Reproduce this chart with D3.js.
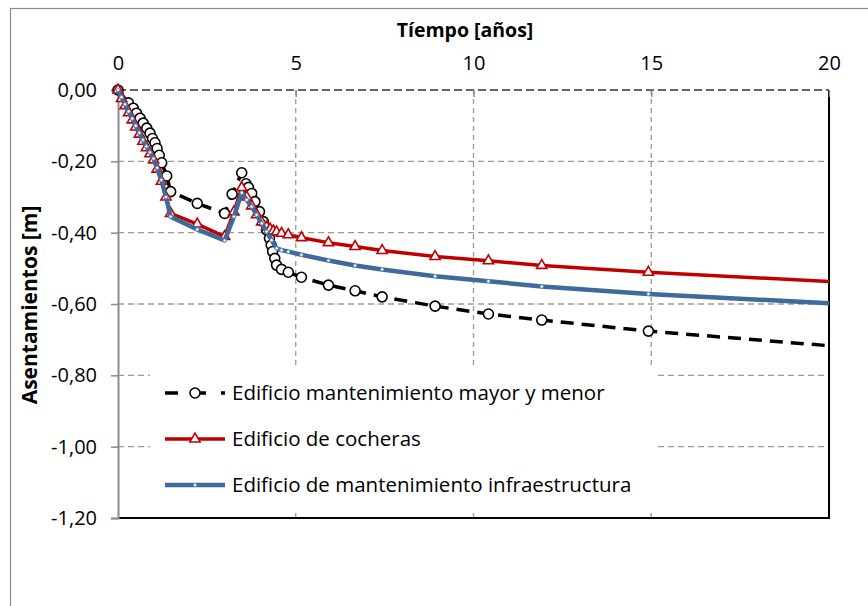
<!DOCTYPE html>
<html>
<head>
<meta charset="utf-8">
<script src="https://cdn.jsdelivr.net/npm/d3@7"></script>
<style>
  body { margin: 0; background: #fff; }
  text { font-family: "Open Sans", sans-serif; fill: #000; }
</style>
</head>
<body>
<script>
const width = 868,
      height = 606;

// settlement data, years vs metres
const tMayor = [0, 0.29, 0.43, 0.52, 0.62, 0.71, 0.81, 0.90, 0.97, 1.04, 1.10, 1.16, 1.23, 1.37, 1.48, 2.23, 3.0, 3.21, 3.48, 3.60, 3.67, 3.76, 3.85, 3.98, 4.09, 4.18, 4.26, 4.31, 4.35, 4.41, 4.46, 4.60, 4.79, 5.16, 5.92, 6.67, 7.43, 8.92, 10.42, 11.92, 14.92, 20];
const vMayor = [0, -0.036, -0.051, -0.065, -0.079, -0.093, -0.107, -0.121, -0.136, -0.148, -0.164, -0.183, -0.204, -0.241, -0.285, -0.318, -0.346, -0.292, -0.232, -0.263, -0.273, -0.290, -0.313, -0.341, -0.369, -0.392, -0.416, -0.435, -0.453, -0.472, -0.491, -0.503, -0.511, -0.525, -0.547, -0.563, -0.580, -0.606, -0.628, -0.645, -0.676, -0.717];

const tCocheras = [0, 0.1, 0.2, 0.3, 0.4, 0.5, 0.6, 0.7, 0.8, 0.9, 1.0, 1.1, 1.22, 1.35, 1.48, 2.23, 3.0, 3.26, 3.48, 3.62, 3.76, 3.90, 4.04, 4.18, 4.28, 4.37, 4.46, 4.60, 4.79, 5.16, 5.92, 6.67, 7.43, 8.92, 10.42, 11.92, 14.92, 20];
const vCocheras = [0, -0.024, -0.044, -0.064, -0.084, -0.104, -0.124, -0.144, -0.162, -0.179, -0.196, -0.222, -0.256, -0.300, -0.346, -0.376, -0.411, -0.342, -0.274, -0.300, -0.325, -0.350, -0.370, -0.384, -0.390, -0.395, -0.398, -0.402, -0.406, -0.414, -0.428, -0.439, -0.450, -0.467, -0.479, -0.492, -0.511, -0.537];

const tInfra = [0, 0.1, 0.2, 0.3, 0.4, 0.5, 0.6, 0.7, 0.8, 0.9, 1.0, 1.1, 1.22, 1.35, 1.48, 2.23, 3.0, 3.26, 3.48, 3.62, 3.76, 3.90, 4.04, 4.18, 4.32, 4.46, 4.60, 4.79, 5.16, 5.92, 6.67, 7.43, 8.92, 10.42, 11.92, 14.92, 20];
const vInfra = [0, -0.020, -0.040, -0.060, -0.080, -0.100, -0.120, -0.140, -0.158, -0.175, -0.192, -0.218, -0.252, -0.300, -0.355, -0.391, -0.422, -0.355, -0.288, -0.308, -0.327, -0.350, -0.374, -0.397, -0.421, -0.444, -0.449, -0.453, -0.462, -0.478, -0.492, -0.503, -0.522, -0.536, -0.551, -0.572, -0.598];

const xTicks = [0, 5, 10, 15, 20];
const yTicks = [0, -0.2, -0.4, -0.6, -0.8, -1.0, -1.2];
const seriesNames = ["Edificio mantenimiento mayor y menor", "Edificio de cocheras", "Edificio de mantenimiento infraestructura"];

const zip = (ts, vs) => ts.map((t, i) => ({t: t, v: vs[i]}));
const series = [
  {name: seriesNames[0], data: zip(tMayor, vMayor), color: "#000", width: 3.5, dash: "13,8", marker: "circle"},
  {name: seriesNames[1], data: zip(tCocheras, vCocheras), color: "#C00000", width: 3.5, dash: null, marker: "triangle"},
  {name: seriesNames[2], data: zip(tInfra, vInfra), color: "#3E6A9C", width: 4.5, dash: null, marker: "dot"}
];

const loc = d3.formatLocale({decimal: ",", thousands: ".", grouping: [3], currency: ["", ""], minus: "-"});
const fmt = loc.format(".2f");

const x = d3.scaleLinear().domain([0, 20]).range([118, 829]),
      y = d3.scaleLinear().domain([-1.2, 0]).range([518, 90]);

const svg = d3.select("body").append("svg")
              .attr("width", width)
              .attr("height", height);

// outer chart frame
svg.append("rect")
   .attr("x", 10.5).attr("y", 8.5)
   .attr("width", 880).attr("height", 620)
   .attr("fill", "#fff")
   .attr("stroke", "#8c8c8c").attr("stroke-width", 1.2);

// grid
const grid = svg.append("g");
grid.selectAll(".hg")
    .data(yTicks.filter(d => d < 0 && d > -1.2))
    .enter().append("line")
    .attr("x1", x(0)).attr("x2", x(20))
    .attr("y1", d => y(d)).attr("y2", d => y(d))
    .attr("stroke", "#9a9a9a").attr("stroke-width", 1.3)
    .attr("stroke-dasharray", "6,4");
grid.selectAll(".vg")
    .data(xTicks.filter(d => d > 0 && d < 20))
    .enter().append("line")
    .attr("x1", d => x(d)).attr("x2", d => x(d))
    .attr("y1", y(0)).attr("y2", y(-1.2))
    .attr("stroke", "#9a9a9a").attr("stroke-width", 1.3)
    .attr("stroke-dasharray", "5,4");

// plot border right / bottom
svg.append("path")
   .attr("d", `M${x(20)},${y(0)}V${y(-1.2)}H${x(0)}`)
   .attr("fill", "none").attr("stroke", "#000").attr("stroke-width", 2);
// top line (dashed)
svg.append("line")
   .attr("x1", x(0)).attr("x2", x(20))
   .attr("y1", y(0)).attr("y2", y(0))
   .attr("stroke", "#333").attr("stroke-width", 1.6)
   .attr("stroke-dasharray", "8,4");

// axes
const xAxis = svg.append("g")
   .attr("transform", `translate(0,${y(0)})`)
   .call(d3.axisTop(x).tickValues(xTicks).tickSizeInner(-7).tickSizeOuter(0).tickPadding(20).tickFormat(d3.format("d")));
xAxis.select(".domain").remove();
xAxis.selectAll(".tick line").attr("stroke", "#8c8c8c").attr("stroke-width", 1.5);
xAxis.selectAll(".tick text").attr("font-size", 20).attr("font-family", "Open Sans");

const yAxis = svg.append("g")
   .attr("transform", `translate(${x(0)},0)`)
   .call(d3.axisLeft(y).tickValues(yTicks).tickSize(7).tickPadding(14).tickFormat(fmt));
yAxis.select(".domain").attr("stroke", "#8c8c8c").attr("stroke-width", 2);
yAxis.selectAll(".tick line").attr("stroke", "#8c8c8c").attr("stroke-width", 1.5);
yAxis.selectAll(".tick text").attr("font-size", 20).attr("font-family", "Open Sans");

svg.append("text")
   .attr("x", 465).attr("y", 37)
   .attr("text-anchor", "middle")
   .attr("font-size", 19.5).attr("font-weight", "bold")
   .text("Tíempo [años]");
svg.append("text")
   .attr("transform", "translate(37,305) rotate(-90)")
   .attr("text-anchor", "middle")
   .attr("font-size", 21).attr("font-weight", "bold")
   .text("Asentamientos [m]");

// series
const line = d3.line().x(d => x(d.t)).y(d => y(d.v));
const tri = d3.symbol().type(d3.symbolTriangle).size(45);

function drawMarkers(g, s, pts) {
  if (s.marker === "circle") {
    g.selectAll("circle").data(pts).enter().append("circle")
     .attr("cx", d => x(d.t)).attr("cy", d => y(d.v)).attr("r", 5)
     .attr("fill", "#fff").attr("stroke", s.color).attr("stroke-width", 1.6);
  } else if (s.marker === "triangle") {
    g.selectAll("path.mk").data(pts).enter().append("path")
     .attr("class", "mk")
     .attr("d", tri)
     .attr("transform", d => `translate(${x(d.t)},${y(d.v)})`)
     .attr("fill", "#fff").attr("stroke", s.color).attr("stroke-width", 1.6);
  } else {
    g.selectAll("circle").data(pts).enter().append("circle")
     .attr("cx", d => x(d.t)).attr("cy", d => y(d.v)).attr("r", 1.6)
     .attr("fill", "#fff").attr("stroke", "#6f93c0").attr("stroke-width", 0.8);
  }
}

series.forEach(s => {
  const g = svg.append("g");
  g.append("path")
   .datum(s.data)
   .attr("d", line)
   .attr("fill", "none")
   .attr("stroke", s.color)
   .attr("stroke-width", s.width)
   .attr("stroke-linejoin", "round")
   .attr("stroke-dasharray", s.dash);
  drawMarkers(g, s, s.data.filter(d => d.t < 20));
});

// legend
const legend = svg.append("g");
legend.append("rect")
   .attr("x", 150).attr("y", 367).attr("width", 506).attr("height", 143)
   .attr("fill", "#fff");
const rowY = [393, 439, 485];
series.forEach((s, i) => {
  const row = legend.append("g").attr("transform", `translate(0,${rowY[i]})`);
  row.append("line")
     .attr("x1", 165).attr("x2", 225).attr("y1", 0).attr("y2", 0)
     .attr("stroke", s.color).attr("stroke-width", s.width)
     .attr("stroke-dasharray", s.dash ? "13,15" : null);
  drawMarkers(row, s, [{t: x.invert(195), v: y.invert(0)}]);
  row.append("text")
     .attr("x", 232).attr("y", 0).attr("dy", "0.35em")
     .attr("font-size", 20.5)
     .text(s.name);
});
</script>
</body>
</html>
